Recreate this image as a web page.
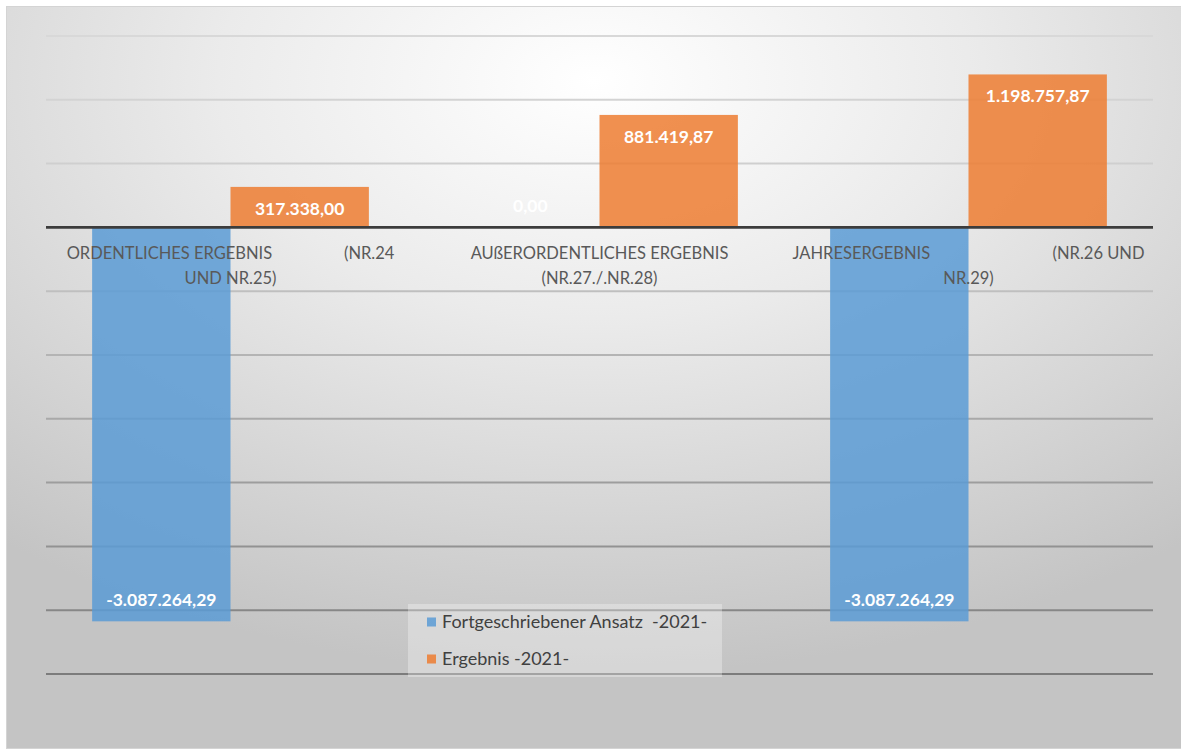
<!DOCTYPE html>
<html>
<head>
<meta charset="utf-8">
<script src="https://cdn.jsdelivr.net/npm/d3@7"></script>
<style>
  body { margin: 0; background: #fff; }
  svg text { font-family: Lato, "Liberation Sans", sans-serif; }
</style>
</head>
<body>
<div id="chart"></div>
<script>
// Chart values
const categoryLines = [
  ["ORDENTLICHES ERGEBNIS                 (NR.24", "UND NR.25)"],
  ["AUßERORDENTLICHES ERGEBNIS", "(NR.27./.NR.28)"],
  ["JAHRESERGEBNIS                             (NR.26 UND", "NR.29)"]
];
const seriesNames = ["Fortgeschriebener Ansatz  -2021-", "Ergebnis -2021-"];
const ansatz = [-3087264.29, 0, -3087264.29];
const ergebnis = [317338.0, 881419.87, 1198757.87];
const yDomain = [-3500000, 1500000];

let width = 1181;
let height = 751;
let colors = ["#5b9bd5", "#ed7d31"];

let locale = d3.formatLocale({
  decimal: ",",
  thousands: ".",
  grouping: [3],
  currency: ["", " €"],
  minus: "-"
});
let fmt = locale.format(",.2f");

let svg = d3
  .select("#chart")
  .append("svg")
  .attr("width", width)
  .attr("height", height);

let defs = svg.append("defs");

// background radial gradient
let bg = defs
  .append("radialGradient")
  .attr("id", "bg")
  .attr("cx", "50%")
  .attr("cy", "10%")
  .attr("r", "80%");
bg.append("stop").attr("offset", "0%").attr("stop-color", "#ffffff");
bg.append("stop").attr("offset", "40%").attr("stop-color", "#ebebeb");
bg.append("stop").attr("offset", "100%").attr("stop-color", "#c4c4c4");

svg
  .append("rect")
  .attr("x", 6.5)
  .attr("y", 6.5)
  .attr("width", width - 6)
  .attr("height", height - 9)
  .attr("fill", "url(#bg)")
  .attr("stroke", "#d4d4d4");

// Scales
let margin = { left: 46, right: 28, top: 36, bottom: 77 };
let x = d3
  .scaleBand()
  .domain(d3.range(categoryLines.length))
  .range([margin.left, width - margin.right])
  .paddingInner(0.25)
  .paddingOuter(0.125);

let xSeries = d3
  .scaleBand()
  .domain(d3.range(seriesNames.length))
  .range([0, x.bandwidth()]);

let y = d3
  .scaleLinear()
  .domain(yDomain)
  .range([height - margin.bottom, margin.top]);

// gridlines get darker towards the bottom
let gridColor = d3
  .scaleLinear()
  .domain([margin.top, y(0), height - margin.bottom])
  .range(["#d8d8d8", "#cacaca", "#7c7c7c"]);

svg
  .append("g")
  .selectAll("line")
  .data(y.ticks(10).filter((t) => t !== 0))
  .enter()
  .append("line")
  .attr("x1", margin.left)
  .attr("x2", width - margin.right)
  .attr("y1", (d) => y(d))
  .attr("y2", (d) => y(d))
  .attr("stroke", (d) => gridColor(y(d)))
  .attr("stroke-width", 2);

// Bars
let data = [ansatz, ergebnis];
let series = svg
  .selectAll("g.series")
  .data(data)
  .enter()
  .append("g")
  .attr("class", "series");

series
  .selectAll("rect")
  .data((d, i) => d.map((v, j) => ({ v: v, s: i, c: j })))
  .enter()
  .append("rect")
  .attr("x", (d) => x(d.c) + xSeries(d.s))
  .attr("width", xSeries.bandwidth())
  .attr("y", (d) => y(Math.max(0, d.v)))
  .attr("height", (d) => Math.abs(y(d.v) - y(0)))
  .attr("fill", (d) => colors[d.s])
  .attr("fill-opacity", 0.85);

// Zero line
svg
  .append("line")
  .attr("x1", margin.left)
  .attr("x2", width - margin.right)
  .attr("y1", y(0))
  .attr("y2", y(0))
  .attr("stroke", "#3c3c3c")
  .attr("stroke-width", 2.6);

// Data labels
series
  .selectAll("text")
  .data((d, i) => d.map((v, j) => ({ v: v, s: i, c: j })))
  .enter()
  .append("text")
  .attr("x", (d) => x(d.c) + xSeries(d.s) + xSeries.bandwidth() / 2)
  .attr("y", (d) => (d.v > 0 ? y(d.v) + 28 : y(d.v) - 15.5))
  .attr("text-anchor", "middle")
  .attr("fill", "#ffffff")
  .style("font-weight", "bold")
  .style("font-size", "17.5px")
  .text((d) => fmt(d.v));

// Category labels
let cat = svg
  .selectAll("text.cat")
  .data(categoryLines)
  .enter()
  .append("text")
  .attr("class", "cat")
  .attr("text-anchor", "middle")
  .attr("fill", "#595959")
  .style("font-size", "16.5px")
  .style("white-space", "pre")
  .attr("xml:space", "preserve");

cat
  .selectAll("tspan")
  .data((d, i) => d.map((t) => ({ t: t, c: i })))
  .enter()
  .append("tspan")
  .attr("x", (d) => x(d.c) + x.bandwidth() / 2)
  .attr("y", (d, k) => y(0) + 32 + k * 25)
  .text((d) => d.t);

// Legend
let legend = svg.append("g").attr("transform", "translate(408,604)");
legend
  .append("rect")
  .attr("width", 314)
  .attr("height", 73)
  .attr("fill", "#ffffff")
  .attr("fill-opacity", 0.3);

let items = legend
  .selectAll("g")
  .data(seriesNames)
  .enter()
  .append("g")
  .attr("transform", (d, i) => "translate(19," + (18 + i * 37) + ")");

items
  .append("rect")
  .attr("y", -4.5)
  .attr("width", 9)
  .attr("height", 9)
  .attr("fill", (d, i) => colors[i])
  .attr("fill-opacity", 0.85);

items
  .append("text")
  .attr("x", 15)
  .attr("dy", "0.35em")
  .attr("fill", "#404040")
  .style("font-size", "18px")
  .style("white-space", "pre")
  .attr("xml:space", "preserve")
  .text((d) => d);
</script>
</body>
</html>
